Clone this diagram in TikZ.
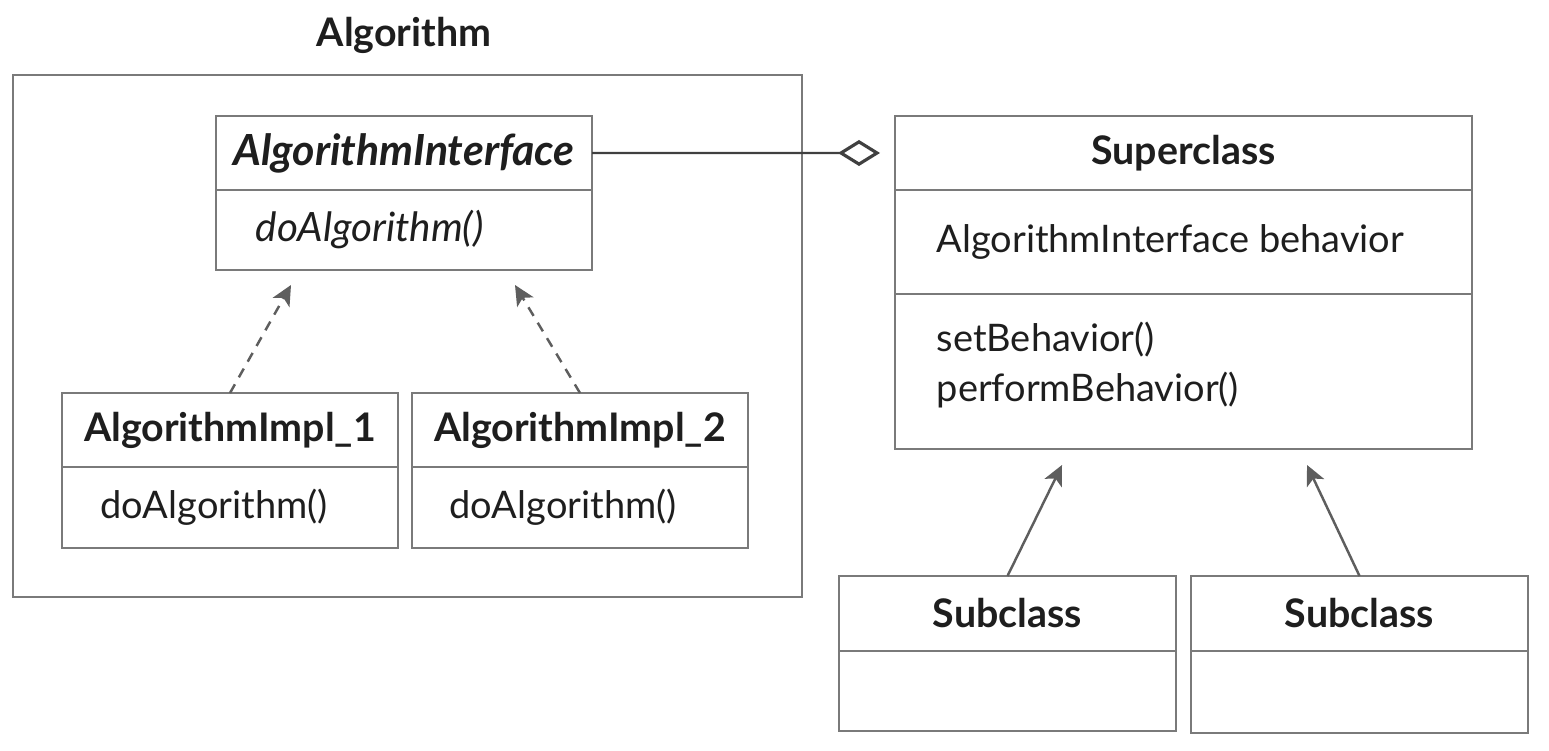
\documentclass[tikz,border=0pt]{standalone}
\usepackage{fontspec}
\setmainfont{Lato}
\usetikzlibrary{arrows.meta}

\definecolor{boxgray}{HTML}{7A7A7A}
\definecolor{ink}{HTML}{1E1E1E}
\definecolor{arrowgray}{HTML}{5E5E5E}

\tikzset{
  umlbox/.style={draw=boxgray, line width=0.65pt, anchor=north west, inner sep=0pt, outer sep=0pt},
  title/.style={font=\fontsize{11.2}{13}\selectfont\bfseries, text=ink},
  member/.style={font=\fontsize{10.8}{13}\selectfont, text=ink, anchor=west, inner sep=0pt},
  realize/.style={draw=arrowgray, line width=0.7pt, dash pattern=on 1mm off 0.8mm,
    -{Stealth[length=2mm, width=1.9mm, inset=0.5mm]}},
  inherit/.style={draw=arrowgray, line width=0.7pt,
    -{Stealth[length=2mm, width=1.9mm, inset=0.5mm]}},
}

\begin{document}
\begin{tikzpicture}[x=0.1mm, y=-0.1mm]
  \useasboundingbox (0,0) rectangle (1549,751);

  % package
  \node[title] (pkgname) at (404,35) {Algorithm};
  \node[umlbox, minimum width=78.9mm, minimum height=52.2mm] (pkg) at (13,75) {};

  % interface
  \node[umlbox, minimum width=37.6mm, minimum height=7.4mm] (ifc) at (216,116) {};
  \node[umlbox, minimum width=37.6mm, minimum height=8mm] (ifcops) at (ifc.south west) {};
  \node[title, font=\fontsize{12.2}{14}\selectfont\bfseries\itshape] (ifcname) at (ifc) {AlgorithmInterface};
  \node[member, font=\fontsize{11.5}{13}\selectfont\itshape] (ifcop) at ([xshift=3.9mm]ifcops.west) {doAlgorithm()};

  % implementations
  \node[umlbox, minimum width=33.6mm, minimum height=7.4mm] (implA) at (62,393) {};
  \node[umlbox, minimum width=33.6mm, minimum height=8.1mm] (implAops) at (implA.south west) {};
  \node[title] (implAname) at (implA) {AlgorithmImpl\_1};
  \node[member] (implAop) at ([xshift=3.8mm]implAops.west) {doAlgorithm()};

  \node[umlbox, minimum width=33.6mm, minimum height=7.4mm] (implB) at (412,393) {};
  \node[umlbox, minimum width=33.6mm, minimum height=8.1mm] (implBops) at (implB.south west) {};
  \node[title] (implBname) at (implB) {AlgorithmImpl\_2};
  \node[member] (implBop) at ([xshift=3.7mm]implBops.west) {doAlgorithm()};

  \coordinate (tipA) at (291,285);
  \coordinate (tipB) at (515,285);
  \draw[realize] (implA.north) -- (tipA);
  \draw[realize] (implB.north) -- (tipB);

  % superclass
  \node[umlbox, minimum width=57.7mm, minimum height=7.4mm] (sup) at (895,116) {};
  \node[umlbox, minimum width=57.7mm, minimum height=10.4mm] (supattr) at (sup.south west) {};
  \node[umlbox, minimum width=57.7mm, minimum height=15.5mm] (supops) at (supattr.south west) {};
  \node[title] (supname) at (sup) {Superclass};
  \node[member] (supfield) at ([xshift=4.1mm]supattr.west) {AlgorithmInterface behavior};
  \node[member] (supset) at (936,340) {setBehavior()};
  \node[member] (supdo) at (936,390) {performBehavior()};

  \coordinate (agg) at (880,153);
  \draw[draw=black!75, line width=0.7pt,
    -{Diamond[open, length=4.2mm, width=2.6mm, line width=0.9pt]}] (ifc.east) -- (agg);

  % subclasses
  \node[umlbox, minimum width=33.7mm, minimum height=7.5mm] (subA) at (839,576) {};
  \node[umlbox, minimum width=33.7mm, minimum height=8mm] (subAbody) at (subA.south west) {};
  \node[title] (subAname) at (subA) {Subclass};

  \node[umlbox, minimum width=33.7mm, minimum height=7.5mm] (subB) at (1191,576) {};
  \node[umlbox, minimum width=33.7mm, minimum height=8.2mm] (subBbody) at (subB.south west) {};
  \node[title] (subBname) at (subB) {Subclass};

  \coordinate (tipC) at (1062,465);
  \coordinate (tipD) at (1307,465);
  \draw[inherit] (subA.north) -- (tipC);
  \draw[inherit] (subB.north) -- (tipD);
\end{tikzpicture}
\end{document}
